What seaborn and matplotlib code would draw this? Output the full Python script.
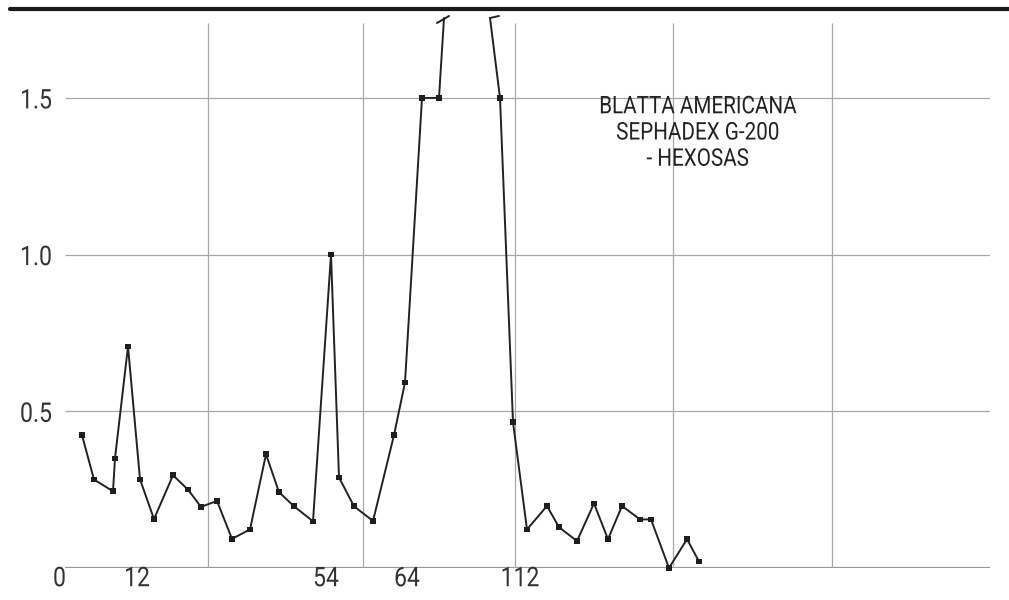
import numpy as np
import pandas as pd
import matplotlib
matplotlib.use("Agg")
import matplotlib.pyplot as plt
from matplotlib.lines import Line2D
from matplotlib.patheffects import AbstractPathEffect
from matplotlib.transforms import Affine2D
import seaborn as sns

# Elution position along the column and hexose absorbance per fraction
position = [17, 29, 48, 50, 63, 75, 89, 108, 123, 136, 152, 167, 185, 201,
            214, 229, 248, 266, 274, 289, 308, 329, 340, 357, 374,
            435, 448, 462, 482, 494, 512, 529, 543, 557, 575, 586, 604,
            622, 634]
absorbance = [0.424, 0.282, 0.245, 0.350, 0.707, 0.283, 0.156, 0.296, 0.250,
              0.195, 0.214, 0.093, 0.123, 0.363, 0.242, 0.197, 0.149, 1.00,
              0.289, 0.197, 0.150, 0.424, 0.592, 1.50, 1.50,
              1.50, 0.465, 0.123, 0.198, 0.130, 0.086, 0.206, 0.092, 0.198,
              0.155, 0.155, 0.0, 0.092, 0.021]
# The main peak runs off the scale: the trace is cut between these two ends
break_pos = [379, 425]
break_val = [1.755, 1.755]

tick_pos = [-5.5, 72, 261, 342, 455]
tick_labels = ["0", "12", "54", "64", "112"]
grid_x = [143, 298, 450, 608, 767]
grid_y = [0.5, 1.0, 1.5]
title_lines = ["BLATTA AMERICANA", "SEPHADEX G-200", "- HEXOSAS"]


class Condense(AbstractPathEffect):
    """Draw text glyphs narrower, squeezing horizontally about an anchor x."""

    def __init__(self, factor, anchor):
        super().__init__()
        self.factor = factor
        self.anchor = anchor

    def draw_path(self, renderer, gc, tpath, affine, rgbFace=None):
        cx = self.anchor()
        t = affine + Affine2D().translate(-cx, 0).scale(self.factor, 1).translate(cx, 0)
        renderer.draw_path(gc, tpath, t, rgbFace)


sns.set_theme(style="white")
plt.rcParams["font.family"] = ["Roboto", "Liberation Sans", "DejaVu Sans"]
SQUEEZE = 0.85

W, H = 1009, 600
fig = plt.figure(figsize=(W / 100, H / 100), dpi=100)
ax_left, ax_right, ax_bottom, ax_top = 52, 990, 568, 23
ax = fig.add_axes([ax_left / W, 1 - ax_bottom / H,
                   (ax_right - ax_left) / W, (ax_bottom - ax_top) / H])
ax.set_xlim(-13, 925)
ax.set_ylim(0, 1.739)
for s in ax.spines.values():
    s.set_visible(False)

# grid
ax.hlines(grid_y, 0, 925, color="#a8a8a8", lw=0.9, zorder=0)
ax.hlines([0], 0, 925, color="#9a9a9a", lw=1.6, zorder=0)
ax.vlines(grid_x, 0, 1.739, color="#a8a8a8", lw=0.9, zorder=0)

# trace: two pieces separated by the off-scale peak
n_before = sum(1 for p in position if p < break_pos[0])
df = pd.DataFrame({
    "pos": position[:n_before] + [break_pos[0], break_pos[1]] + position[n_before:],
    "val": absorbance[:n_before] + [break_val[0], break_val[1]] + absorbance[n_before:],
    "piece": [0] * (n_before + 1) + [1] * (len(position) - n_before + 1),
})
sns.lineplot(data=df, x="pos", y="val", units="piece", estimator=None,
             color="#222222", lw=1.4, ax=ax, clip_on=False, sort=False)
pts = pd.DataFrame({"pos": position, "val": absorbance})
sns.scatterplot(data=pts, x="pos", y="val", marker="s", s=16, color="#1e1e1e",
                edgecolor="none", ax=ax, clip_on=False, zorder=4)

# break marks at the cut ends of the peak
fig.canvas.draw()
(lx, ly), (rx, ry) = ax.transData.transform(list(zip(break_pos, break_val)))
fig.add_artist(Line2D([lx - 7, lx + 5], [ly - 5, ly + 2], transform=None,
                      color="#222222", lw=1.4))
fig.add_artist(Line2D([rx, rx + 9], [ry, ry + 2], transform=None,
                      color="#222222", lw=1.4))

ax.set_xticks(tick_pos)
ax.set_xticklabels(tick_labels)
ax.set_yticks(grid_y)
ax.set_yticklabels([f"{v:.1f}" for v in grid_y])
ax.tick_params(axis="both", length=0, labelsize=19.5, labelcolor="#333333")
ax.tick_params(axis="x", pad=-2)
ax.tick_params(axis="y", pad=0)
ax.set_xlabel("")
ax.set_ylabel("")

for lab, p in zip(ax.get_xticklabels(), tick_pos):
    lab.set_path_effects([Condense(SQUEEZE, lambda p=p: ax.transData.transform((p, 0))[0])])
for lab in ax.get_yticklabels():
    lab.set_path_effects([Condense(SQUEEZE, lambda: ax.transAxes.transform((0, 0))[0])])

title_x, title_y = 632.5, 1.388
ax.text(title_x, title_y, "\n".join(title_lines), ha="center", va="center",
        fontsize=17.5, color="#222222", linespacing=1.18,
        path_effects=[Condense(SQUEEZE, lambda: ax.transData.transform((title_x, 0))[0])])

# heavy rule across the top
fig.add_artist(Line2D([10 / W, 1], [1 - 9 / H, 1 - 9 / H],
                      transform=fig.transFigure, color="#1a1a1a", lw=3))

fig.savefig("out.png", dpi=100)
